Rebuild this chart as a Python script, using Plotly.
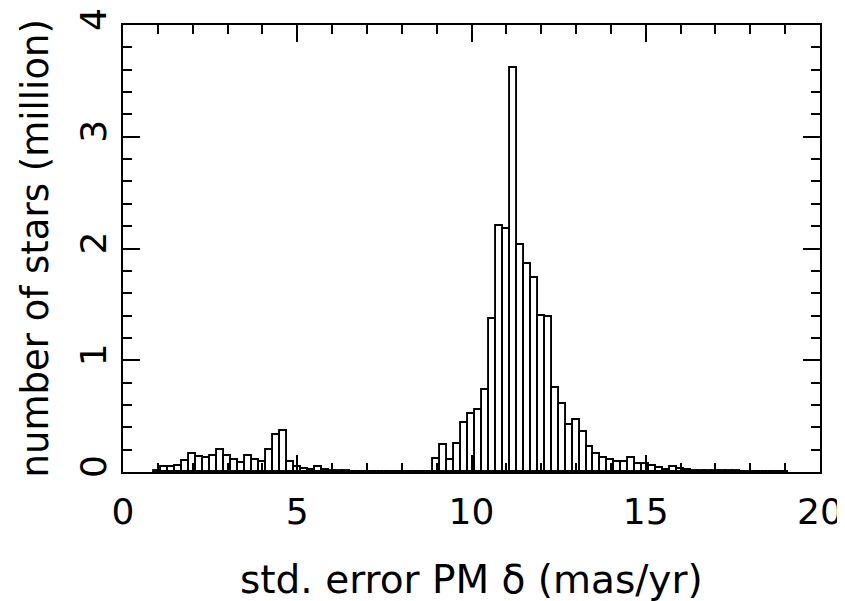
import plotly.graph_objects as go

# Histogram of std. error of PM in delta (million stars per 0.2 mas/yr bin)
bin_width = 0.2
first_center = 1.0
counts = [
    0.012, 0.045, 0.046, 0.058, 0.098,   # 1.0 - 1.8
    0.157, 0.134, 0.127, 0.141, 0.195,   # 2.0 - 2.8
    0.143, 0.111, 0.079, 0.144, 0.103,   # 3.0 - 3.8
    0.092, 0.196, 0.330, 0.367, 0.094,   # 4.0 - 4.8
    0.042, 0.027, 0.022, 0.045, 0.017,   # 5.0 - 5.8
    0.009, 0.008, 0.005, 0.004, 0.003,   # 6.0 - 6.8
    0.002, 0.002, 0.002, 0.001, 0.001,   # 7.0 - 7.8
    0.001, 0.001, 0.001, 0.001, 0.001,   # 8.0 - 8.8
    0.112, 0.240, 0.108, 0.248, 0.436,   # 9.0 - 9.8
    0.522, 0.551, 0.737, 1.372, 2.197,   # 10.0 - 10.8
    2.176, 3.616, 2.035, 1.857, 1.739,   # 11.0 - 11.8
    1.399, 1.384, 0.748, 0.612, 0.418,   # 12.0 - 12.8
    0.468, 0.358, 0.222, 0.162, 0.128,   # 13.0 - 13.8
    0.110, 0.090, 0.090, 0.125, 0.076,   # 14.0 - 14.8
    0.074, 0.050, 0.033, 0.022, 0.042,   # 15.0 - 15.8
    0.026, 0.019, 0.013, 0.011, 0.008,   # 16.0 - 16.8
    0.007, 0.006, 0.005, 0.005, 0.004,   # 17.0 - 17.8
    0.004, 0.003, 0.003, 0.002, 0.002,   # 18.0 - 18.8
    0.002,                               # 19.0
]
bin_centers = [round(first_center + bin_width * i, 1) for i in range(len(counts))]

x_ticks = [0, 5, 10, 15, 20]
y_ticks = [0, 1, 2, 3, 4]
x_range = [0, 20]
y_range = [0, 4]

x_title = "std. error PM δ (mas/yr)"
y_title = "number of stars (million)"

FONT = "DejaVu Sans"
TICKFONT = dict(family=FONT, size=36, color="black")

fig = go.Figure()
fig.add_trace(go.Bar(
    x=bin_centers,
    y=counts,
    width=bin_width,
    marker=dict(color="white", line=dict(color="black", width=1.9)),
    showlegend=False,
))
# empty trace so the mirrored (top/right) axes are drawn
fig.add_trace(go.Scatter(x=[], y=[], xaxis="x2", yaxis="y2", showlegend=False))

common = dict(
    ticks="inside", ticklen=17, tickwidth=1.6, tickcolor="black",
    showline=True, linecolor="black", linewidth=2,
    showgrid=False, zeroline=False, automargin=False,
)

# page body adds an 8px offset, so the figure is sized to fill the rest of the window
fig.update_layout(
    width=837,
    height=593,
    margin=dict(l=115, r=25, t=17, b=129),
    plot_bgcolor="white",
    paper_bgcolor="white",
    bargap=0,
    font=dict(family=FONT, color="black"),
    xaxis=dict(
        range=x_range, tickvals=x_ticks, ticktext=[str(v) for v in x_ticks],
        minor=dict(ticks="inside", ticklen=9, dtick=1, tickwidth=1.6, tickcolor="black"),
        tickfont=TICKFONT, ticklabelstandoff=7, ticklabeloverflow="allow", **common,
    ),
    yaxis=dict(
        range=y_range, tickvals=y_ticks, ticktext=[str(v) for v in y_ticks],
        minor=dict(ticks="inside", ticklen=9, dtick=0.2, tickwidth=1.6, tickcolor="black"),
        tickangle=-90, tickfont=TICKFONT, ticklabelstandoff=1, ticklabeloverflow="allow",
        **common,
    ),
    xaxis2=dict(
        range=x_range, overlaying="x", side="top", anchor="y",
        tickvals=x_ticks, showticklabels=False,
        minor=dict(ticks="inside", ticklen=9, dtick=1, tickwidth=1.6, tickcolor="black"),
        **common,
    ),
    yaxis2=dict(
        range=y_range, overlaying="y", side="right", anchor="x",
        tickvals=y_ticks, showticklabels=False,
        minor=dict(ticks="inside", ticklen=9, dtick=0.2, tickwidth=1.6, tickcolor="black"),
        **common,
    ),
    annotations=[
        dict(text=x_title, xref="paper", yref="paper", x=0.5, y=0,
             xanchor="center", yanchor="middle", yshift=-107,
             showarrow=False, font=dict(family=FONT, size=39, color="black")),
        dict(text=y_title, xref="paper", yref="paper", x=0, y=0.5,
             xanchor="center", yanchor="middle", xshift=-88, textangle=-90,
             showarrow=False, font=dict(family=FONT, size=37, color="black")),
    ],
)

fig.write_html("out.html")
